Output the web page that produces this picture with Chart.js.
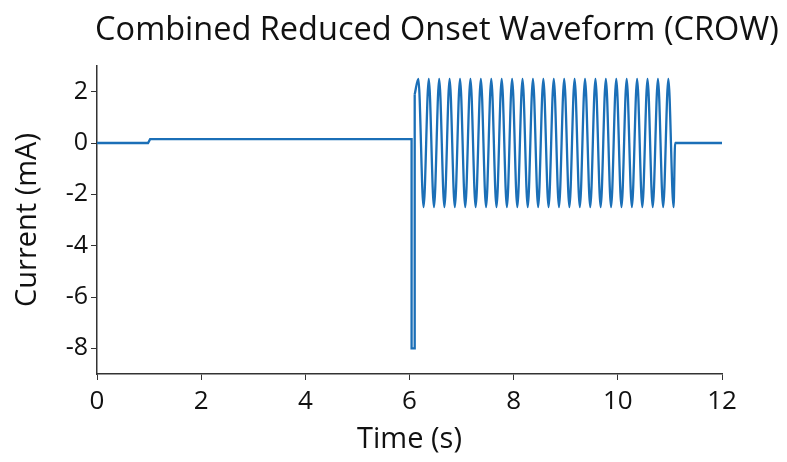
<!DOCTYPE html>
<html>
<head>
<meta charset="utf-8">
<script src="https://cdn.jsdelivr.net/npm/chart.js@4"></script>
<style>
  html, body { margin: 0; padding: 0; background: #fff; }
  #wrap { width: 787px; height: 462px; }
</style>
</head>
<body>
<div id="wrap"><canvas id="crowChart" width="787" height="462"></canvas></div>
<script>
// baseline + small offset, then the -8 mA onset pulse and the jump up into the burst
const stepTimes = [0, 0.98, 1.02, 6.04, 6.04, 6.1, 6.1];
const stepValues = [0, 0, 0.15, 0.15, -8, -8, 1.9];

// 5 Hz burst, peaks and troughs
const oscTimes = [6.1,
    6.17, 6.27, 6.37, 6.47, 6.57, 6.67, 6.77, 6.87, 6.97, 7.07,
    7.17, 7.27, 7.37, 7.47, 7.57, 7.67, 7.77, 7.87, 7.97, 8.07,
    8.17, 8.27, 8.37, 8.47, 8.57, 8.67, 8.77, 8.87, 8.97, 9.07,
    9.17, 9.27, 9.37, 9.47, 9.57, 9.67, 9.77, 9.87, 9.97, 10.07,
    10.17, 10.27, 10.37, 10.47, 10.57, 10.67, 10.77, 10.87, 10.97, 11.07,
    11.1, 12];
const oscValues = [1.9,
    2.5, -2.5, 2.5, -2.5, 2.5, -2.5, 2.5, -2.5, 2.5, -2.5,
    2.5, -2.5, 2.5, -2.5, 2.5, -2.5, 2.5, -2.5, 2.5, -2.5,
    2.5, -2.5, 2.5, -2.5, 2.5, -2.5, 2.5, -2.5, 2.5, -2.5,
    2.5, -2.5, 2.5, -2.5, 2.5, -2.5, 2.5, -2.5, 2.5, -2.5,
    2.5, -2.5, 2.5, -2.5, 2.5, -2.5, 2.5, -2.5, 2.5, -2.5,
    0, 0];

const xTicks = [0, 2, 4, 6, 8, 10, 12];
const yTicks = [-8, -6, -4, -2, 0, 2];

const chartTitle = 'Combined Reduced Onset Waveform (CROW)';
const lineColor = '#1b6fb7';
const axisColor = '#333333';
const font = "'Open Sans', 'Noto Sans', sans-serif";

function toPoints(xs, ys) {
    return xs.map((x, i) => ({ x: x, y: ys[i] }));
}

// title sits a bit right of the canvas centre in the original, so draw it by hand
const titlePlugin = {
    id: 'crowTitle',
    afterDraw(chart) {
        const c = chart.ctx;
        c.save();
        c.fillStyle = '#111';
        c.font = '32.5px ' + font;
        c.textAlign = 'center';
        c.textBaseline = 'middle';
        c.fillText(chartTitle, 437, 31);
        c.restore();
    }
};

const ctx = document.getElementById('crowChart').getContext('2d');

new Chart(ctx, {
    type: 'line',
    data: {
        datasets: [
            {
                data: toPoints(stepTimes, stepValues),
                borderColor: lineColor,
                borderWidth: 2.3,
                pointRadius: 0,
                tension: 0,
                fill: false
            },
            {
                data: toPoints(oscTimes, oscValues),
                borderColor: lineColor,
                borderWidth: 2.3,
                pointRadius: 0,
                cubicInterpolationMode: 'monotone',
                fill: false
            }
        ]
    },
    options: {
        responsive: false,
        animation: false,
        layout: {
            padding: { left: 10, right: 65, top: 66, bottom: 5 }
        },
        scales: {
            x: {
                type: 'linear',
                min: 0,
                max: 12,
                afterBuildTicks: scale => { scale.ticks = xTicks.map(v => ({ value: v })); },
                afterFit: scale => { scale.height = 83; },
                grid: { drawOnChartArea: false, drawTicks: true, tickLength: 6, color: axisColor },
                border: { display: true, color: axisColor, width: 1.5 },
                ticks: { color: '#111', font: { family: font, size: 26 }, padding: 6, maxRotation: 0 },
                title: {
                    display: true,
                    text: 'Time (s)',
                    color: '#111',
                    font: { family: font, size: 29 },
                    padding: { top: 0, bottom: 0 }
                }
            },
            y: {
                min: -9,
                max: 3,
                afterBuildTicks: scale => { scale.ticks = yTicks.map(v => ({ value: v })); },
                afterFit: scale => { scale.width = 87; },
                grid: { drawOnChartArea: false, drawTicks: true, tickLength: 6, color: axisColor },
                border: { display: true, color: axisColor, width: 1.5 },
                ticks: { color: '#111', font: { family: font, size: 25 }, padding: 3 },
                title: {
                    display: true,
                    text: 'Current (mA)',
                    color: '#111',
                    font: { family: font, size: 29 },
                    padding: { top: 0, bottom: 0 }
                }
            }
        },
        plugins: {
            legend: { display: false },
            tooltip: { enabled: false },
            title: { display: false }
        }
    },
    plugins: [titlePlugin]
});
</script>
</body>
</html>
